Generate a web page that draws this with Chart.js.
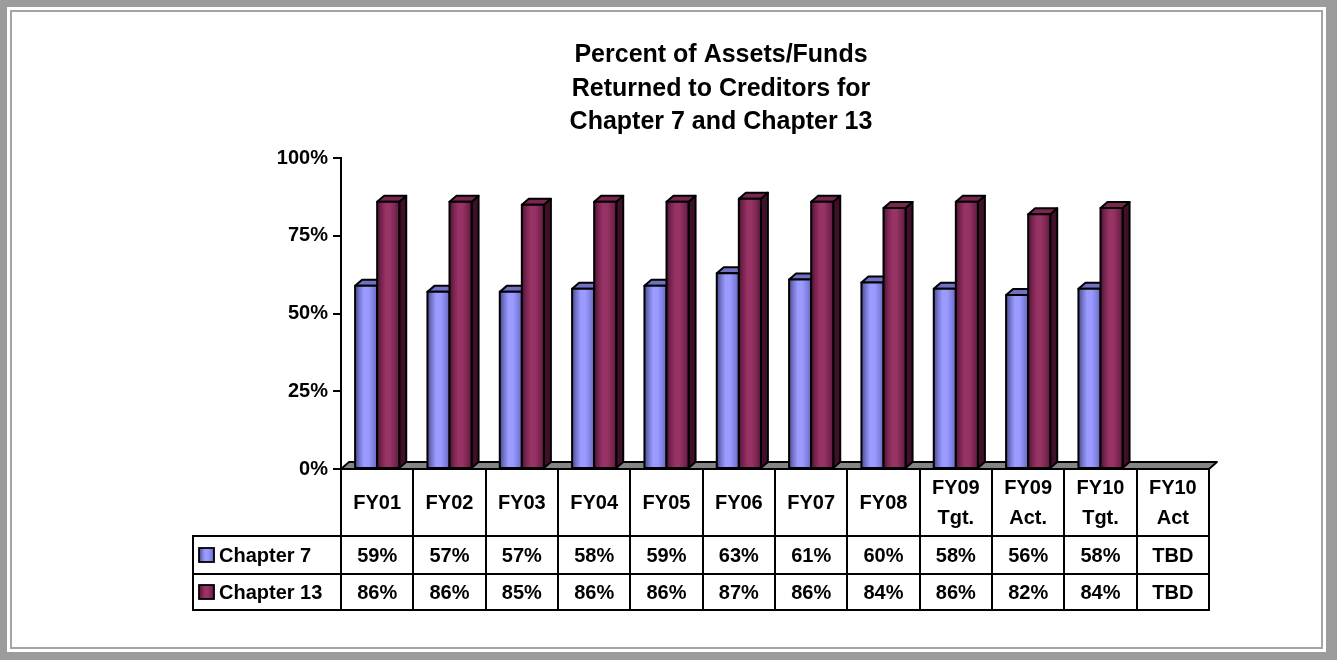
<!DOCTYPE html>
<html><head><meta charset="utf-8">
<script src="https://cdn.jsdelivr.net/npm/chart.js@4.4.1/dist/chart.umd.min.js"></script>
<style>html,body{margin:0;padding:0;background:#fff;overflow:hidden}#wrap{position:relative;width:1337px;height:660px}</style>
</head><body><div id="wrap"><canvas id="c" width="1337" height="660"></canvas></div>
<script>
// ---- data ----
const categories = [['FY01'],['FY02'],['FY03'],['FY04'],['FY05'],['FY06'],['FY07'],['FY08'],['FY09','Tgt.'],['FY09','Act.'],['FY10','Tgt.'],['FY10','Act']];
const chapter7 = [59,57,57,58,59,63,61,60,58,56,58,null];
const chapter13 = [86,86,85,86,86,87,86,84,86,82,84,null];
const seriesNames = ['Chapter 7','Chapter 13'];
const titleLines = ['Percent of Assets/Funds','Returned to Creditors for','Chapter 7 and Chapter 13'];
const yTickValues = [0,25,50,75,100];
const missingLabel = 'TBD';

// ---- styles ----
const FONT = "'Liberation Sans', Arial, Helvetica, sans-serif";
const DX = 7, DY = 6;
const faces = [
  {base:'#9999ff', front:['#4a4a88','#7676d2','#9c9cff','#9a9aff','#8484e6','#6666b4'], side:'#40407a', top:'#7070c4'},
  {base:'#993366', front:['#4e1430','#7a2452','#993366','#963265','#7c2752','#5e1a3e'], side:'#40102a', top:'#7a2750'}
];

function poly(ctx, pts, fill, lw){
  ctx.beginPath(); ctx.moveTo(pts[0][0],pts[0][1]);
  for(let i=1;i<pts.length;i++) ctx.lineTo(pts[i][0],pts[i][1]);
  ctx.closePath(); ctx.fillStyle=fill; ctx.fill();
  ctx.lineWidth=lw||2; ctx.strokeStyle='#000'; ctx.lineJoin='round'; ctx.stroke();
}
function frontGrad(ctx,l,r,stops){
  const g=ctx.createLinearGradient(l,0,r,0);
  stops.forEach((c,i)=>g.addColorStop(i/(stops.length-1),c));
  return g;
}

const framePlugin = {
  id:'frame',
  beforeDraw(chart){
    const ctx=chart.ctx, W=chart.width, H=chart.height;
    ctx.save();
    ctx.fillStyle='#9c9c9c'; ctx.fillRect(0,0,W,H);
    ctx.fillStyle='#fff'; ctx.fillRect(7,7,W-7-11,H-7-8);
    ctx.strokeStyle='#a4a4a4'; ctx.lineWidth=2;
    ctx.strokeRect(11,11,W-11-15,H-11-12);
    ctx.restore();
  }
};

const floorPlugin = {
  id:'floor',
  beforeDatasetsDraw(chart){
    const ctx=chart.ctx, a=chart.chartArea, yb=chart.scales.y.getPixelForValue(0);
    ctx.save();
    poly(ctx,[[a.left,yb],[a.left+8,yb-7],[a.right+8,yb-7],[a.right,yb]],'#858585',1.8);
    ctx.restore();
  }
};

const bars3dPlugin = {
  id:'bars3d',
  afterDatasetsDraw(chart){
    const ctx=chart.ctx, n=chart.data.labels.length;
    ctx.save();
    for(let i=0;i<n;i++){
      chart.data.datasets.forEach((ds,d)=>{
        if(ds.data[i]==null) return;
        const el=chart.getDatasetMeta(d).data[i];
        const {x,y,base,width}=el.getProps(['x','y','base','width'],true);
        const l=x-width/2, r=x+width/2, f=faces[d];
        poly(ctx,[[r,y],[r+DX,y-DY],[r+DX,base-DY],[r,base]],f.side);
        poly(ctx,[[l,y],[l+DX,y-DY],[r+DX,y-DY],[r,y]],f.top);
        poly(ctx,[[l,y],[r,y],[r,base],[l,base]],frontGrad(ctx,l,r,f.front));
      });
    }
    ctx.restore();
  }
};

const tablePlugin = {
  id:'datatable',
  afterDraw(chart){
    const ctx=chart.ctx, xs=chart.scales.x, n=chart.data.labels.length;
    const cw=(xs.right-xs.left)/n;
    const top=xs.top, hdrB=top+67, r1B=hdrB+38, r2B=r1B+36, legL=193;
    ctx.save();
    ctx.strokeStyle='#000'; ctx.lineWidth=2; ctx.lineCap='square';
    const line=(x1,y1,x2,y2)=>{ctx.beginPath();ctx.moveTo(x1,y1);ctx.lineTo(x2,y2);ctx.stroke();};
    for(let i=0;i<=n;i++){ const x=Math.round(xs.left+i*cw); line(x,top,x,r2B); }
    [hdrB,r1B,r2B].forEach(y=>line(legL,y,xs.right,y));
    line(legL,hdrB,legL,r2B);
    ctx.font='bold 20px '+FONT; ctx.fillStyle='#000'; ctx.textBaseline='middle';
    const rows=[[hdrB,r1B],[r1B,r2B]];
    chart.data.datasets.forEach((ds,d)=>{
      const cy=(rows[d][0]+rows[d][1])/2;
      const sx=199, sy=cy-7, sw=15, sh=14;
      ctx.fillStyle=frontGrad(ctx,sx,sx+sw,faces[d].front);
      ctx.fillRect(sx,sy,sw,sh);
      ctx.lineWidth=1.8; ctx.strokeRect(sx,sy,sw,sh); ctx.lineWidth=2;
      ctx.fillStyle='#000'; ctx.textAlign='left';
      ctx.fillText(ds.label,219,cy+1);
      ctx.textAlign='center';
      ds.data.forEach((v,i)=>{
        const cx=xs.getPixelForValue(i);
        ctx.fillText(v==null?missingLabel:v+'%',cx,cy+1);
      });
    });
    ctx.restore();
  }
};

new Chart(document.getElementById('c'),{
  type:'bar',
  data:{
    labels:categories,
    datasets:[
      {label:seriesNames[0],data:chapter7,backgroundColor:faces[0].base,borderWidth:0,categoryPercentage:0.61,barPercentage:1},
      {label:seriesNames[1],data:chapter13,backgroundColor:faces[1].base,borderWidth:0,categoryPercentage:0.61,barPercentage:1}
    ]
  },
  options:{
    responsive:false, animation:false, devicePixelRatio:1,
    layout:{padding:{left:233,right:128,top:0,bottom:50}},
    plugins:{
      legend:{display:false}, tooltip:{enabled:false},
      title:{display:true,text:titleLines,color:'#000',font:{family:FONT,size:25,weight:'bold',lineHeight:1.35},padding:{top:38,bottom:19}}
    },
    scales:{
      x:{
        grid:{display:false,drawTicks:false}, border:{display:false},
        ticks:{color:'#000',font:{family:FONT,size:20,weight:'bold',lineHeight:1.5},padding:19,maxRotation:0,autoSkip:false,crossAlign:'center'},
        afterFit(s){ s.height=141; }
      },
      y:{
        min:0,max:100,
        afterBuildTicks(s){ s.ticks=yTickValues.map(v=>({value:v})); },
        ticks:{color:'#000',font:{family:FONT,size:20,weight:'bold'},padding:5,callback:v=>v+'%'},
        grid:{drawOnChartArea:false,drawTicks:true,tickLength:8,color:'#000',lineWidth:2},
        border:{display:true,color:'#000',width:2},
        afterFit(s){ s.width=108; }
      }
    }
  },
  plugins:[framePlugin,floorPlugin,bars3dPlugin,tablePlugin]
});
</script></body></html>
